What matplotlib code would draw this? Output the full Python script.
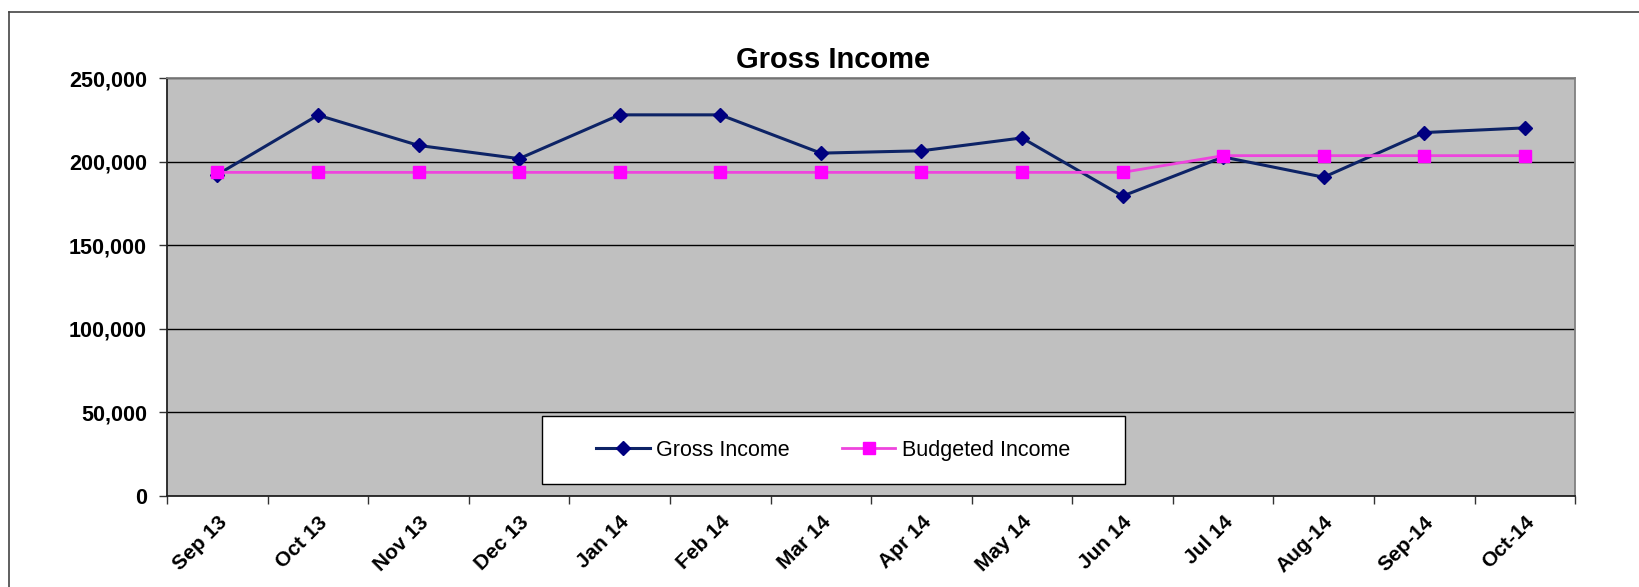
import numpy as np
import matplotlib.pyplot as plt
from matplotlib.patches import Rectangle
from matplotlib.lines import Line2D
from matplotlib.ticker import FuncFormatter

plt.rcParams['font.family'] = ['Liberation Sans', 'DejaVu Sans']

months = ['Sep 13', 'Oct 13', 'Nov 13', 'Dec 13', 'Jan 14', 'Feb 14', 'Mar 14',
          'Apr 14', 'May 14', 'Jun 14', 'Jul 14', 'Aug-14', 'Sep-14', 'Oct-14']
gross_income = [192300, 227800, 209700, 201800, 228000, 228000, 205100,
                206500, 214200, 179400, 202800, 190700, 217400, 220200]
budgeted_income = [193600, 193600, 193600, 193600, 193600, 193600, 193600,
                   193600, 193600, 193600, 203600, 203600, 203600, 203600]

fig = plt.figure(figsize=(16.39, 5.87), dpi=100)
ax = fig.add_axes([0.102, 0.155, 0.859, 0.712])
ax.set_facecolor('#C0C0C0')

x = np.arange(len(months))
ax.plot(x, gross_income, color='#0D2366', lw=2.2, marker='D', ms=7,
        mfc='#000080', mec='#000080', label='Gross Income', zorder=3)
ax.plot(x, budgeted_income, color='#EE44DD', lw=2.0, marker='s', ms=9,
        mfc='#FF00FF', mec='#FF00FF', label='Budgeted Income', zorder=3)

ax.set_xlim(-0.5, len(months) - 0.5)
ax.set_ylim(0, 250000)
ax.set_yticks(np.arange(0, 250001, 50000))
ax.yaxis.set_major_formatter(FuncFormatter(lambda v, p: f'{int(v):,}'))
ax.grid(axis='y', color='black', lw=1)
ax.set_axisbelow(True)

ax.set_xticks(x)
ax.set_xticklabels(months, rotation=45, ha='right', rotation_mode='anchor',
                   fontsize=15, fontweight='bold')
ax.set_xticks(np.arange(-0.5, len(months)), minor=True)
ax.tick_params(axis='x', which='major', length=0, pad=12)
ax.tick_params(axis='x', which='minor', length=6, width=1, color='#333333')
ax.tick_params(axis='y', length=6, width=1, color='#333333', pad=8.5)
for lab in ax.get_yticklabels():
    lab.set_fontsize(15.5)
    lab.set_fontweight('bold')

for s in ['left', 'bottom']:
    ax.spines[s].set_color('#222222')
    ax.spines[s].set_linewidth(1.3)
for s in ['top', 'right']:
    ax.spines[s].set_color('#808080')
    ax.spines[s].set_linewidth(1.3)

ax.set_title('Gross Income', fontsize=21, fontweight='bold', x=0.473, pad=7)

# legend box
ax.add_patch(Rectangle((0.266, 0.029), 0.414, 0.162, transform=ax.transAxes,
                       fc='white', ec='black', lw=1, zorder=4))
leg = ax.legend(loc='center', bbox_to_anchor=(0.473, 0.11), ncol=2, frameon=False,
                fontsize=15.5, handlelength=2.5, handletextpad=0.3, columnspacing=2.4)
leg.set_zorder(5)

# outer chart border
fig.add_artist(Line2D([9 / 1639, 9 / 1639], [0, 1 - 12 / 587], transform=fig.transFigure,
                      color='#444444', lw=1.2))
fig.add_artist(Line2D([9 / 1639, 1], [1 - 12 / 587, 1 - 12 / 587], transform=fig.transFigure,
                      color='#444444', lw=1.2))

plt.savefig('out.png', dpi=100)
